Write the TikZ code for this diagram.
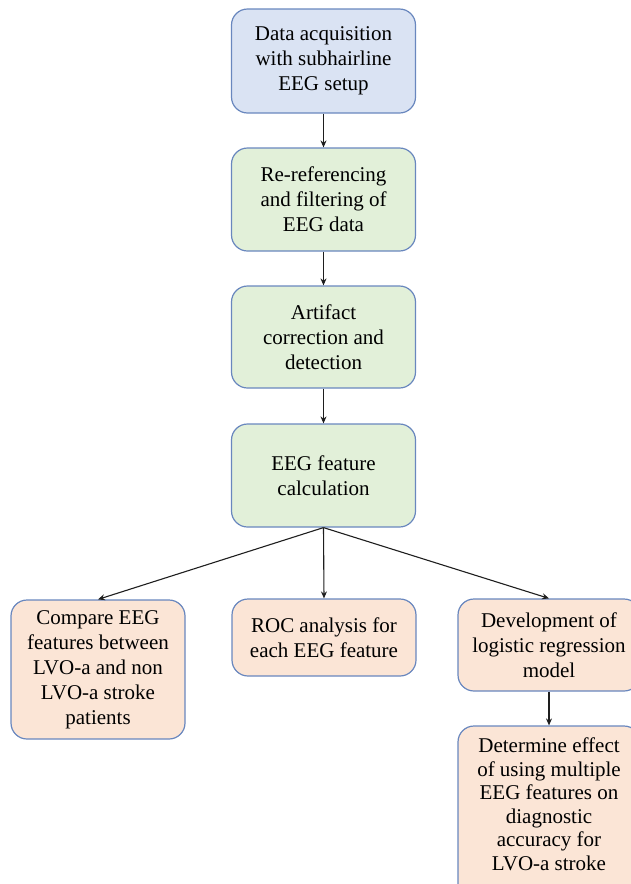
\documentclass[tikz,border=0pt]{standalone}
\usepackage{fontspec}
\setmainfont{Liberation Serif}
\usetikzlibrary{arrows.meta}
\definecolor{bord}{RGB}{105,135,190}
\definecolor{fblue}{HTML}{DAE3F3}
\definecolor{fgreen}{HTML}{E2F0D9}
\definecolor{forange}{HTML}{FBE5D6}
\definecolor{arr}{RGB}{30,30,30}
\tikzset{
  box/.style={draw=bord, line width=1.2pt, rounded corners=16pt, align=center,
    inner sep=0pt, font=\fontsize{21}{25}\selectfont},
  conn/.style={draw=arr, line width=1.1pt, -{Stealth[length=7pt,width=6pt]}}
}
\begin{document}
\begin{tikzpicture}[x=1pt,y=-1pt]
\useasboundingbox (0,0) rectangle (631,884);
\clip (0,0) rectangle (631,884);
\node[box, fill=fblue, minimum width=184pt, minimum height=104pt] (b1) at (323.5,61) {Data acquisition\\with subhairline\\EEG setup};
\node[box, fill=fgreen, minimum width=184pt, minimum height=103pt] (b2) at (323.5,199.5) {Re-referencing\\and filtering of\\EEG data};
\node[box, fill=fgreen, minimum width=184pt, minimum height=102pt] (b3) at (323.5,337) {Artifact\\correction and\\detection};
\node[box, fill=fgreen, minimum width=184pt, minimum height=103pt] (b4) at (323.5,475.5) {EEG feature\\calculation};
\node[box, fill=forange, minimum width=174pt, minimum height=139pt] (l) at (98,669.5) {Compare EEG\\features between\\LVO-a and non\\LVO-a stroke\\patients};
\node[box, fill=forange, minimum width=184pt, minimum height=77pt] (m) at (324,637.5) {ROC analysis for\\each EEG feature};
\node[box, fill=forange, minimum width=182pt, minimum height=92pt] (r) at (549,645) {Development of\\logistic regression\\model};
\node[box, fill=forange, minimum width=182pt, minimum height=180pt, font=\fontsize{21}{23.5}\selectfont] (rb) at (549,816) {Determine effect\\of using multiple\\EEG features on\\diagnostic\\accuracy for\\LVO-a stroke\\ \mbox{}};
\draw[conn] (b1) -- (b2);
\draw[conn] (b2) -- (b3);
\draw[conn] (b3) -- (b4);
\draw[conn] (b4.south) -- (l.north);
\draw[conn] (b4.south) -- (m.north);
\draw[conn] (b4.south) -- (r.north);
\draw[conn] (r) -- (rb);
\end{tikzpicture}
\end{document}
